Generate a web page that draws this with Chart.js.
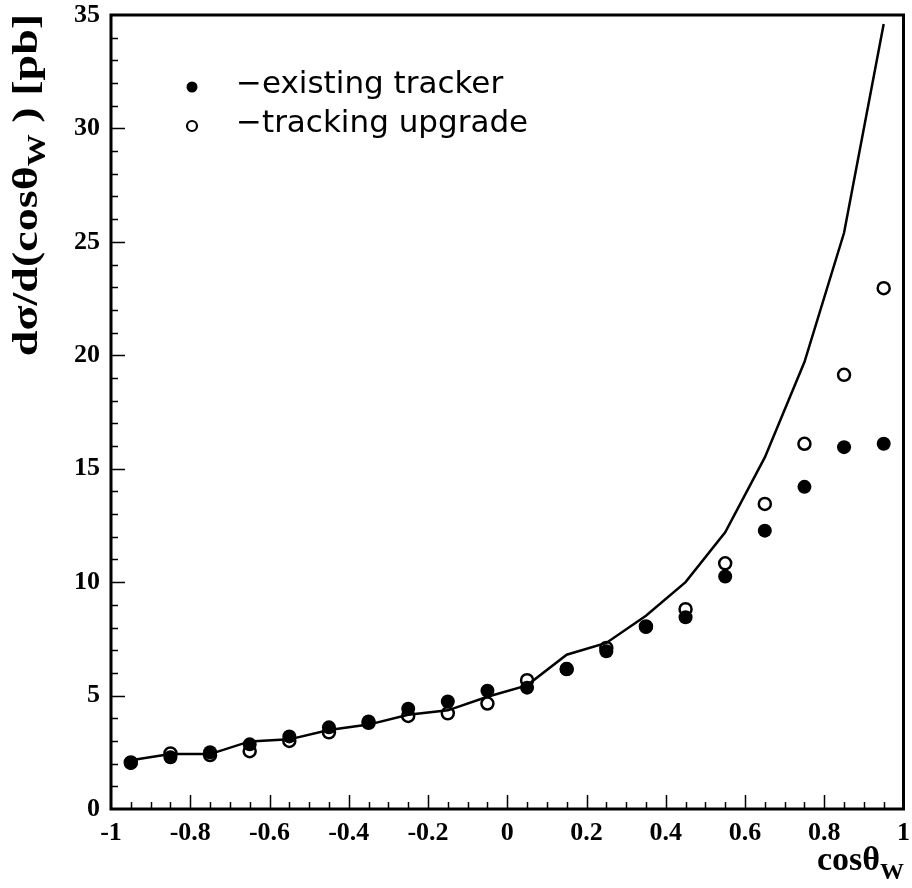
<!DOCTYPE html>
<html>
<head>
<meta charset="utf-8">
<style>
  html, body { margin: 0; padding: 0; background: #fff; }
  #wrap { width: 912px; height: 888px; }
</style>
</head>
<body>
<div id="wrap"><canvas id="xsecChart" width="912" height="888"></canvas></div>

<script src="https://cdn.jsdelivr.net/npm/chart.js"></script>
<script>
// bin centres in cos(theta_W)
const cosBins = [-0.95, -0.85, -0.75, -0.65, -0.55, -0.45, -0.35, -0.25, -0.15, -0.05,
                 0.05, 0.15, 0.25, 0.35, 0.45, 0.55, 0.65, 0.75, 0.85, 0.95];

// generator-level curve
const theoryCurve = [2.15, 2.42, 2.42, 2.98, 3.07, 3.48, 3.72, 4.15, 4.35, 4.95,
                     5.45, 6.8, 7.32, 8.52, 10.0, 12.2, 15.5, 19.7, 25.4, 34.6];

// reconstructed with the existing tracker (filled dots)
const existingTracker = [2.03, 2.28, 2.5, 2.85, 3.2, 3.6, 3.86, 4.42, 4.74, 5.21,
                         5.35, 6.17, 6.95, 8.02, 8.45, 10.25, 12.27, 14.2, 15.95, 16.1];

// reconstructed with the tracking upgrade (open dots)
const trackingUpgrade = [2.05, 2.45, 2.38, 2.55, 3.0, 3.38, 3.8, 4.1, 4.22, 4.65,
                         5.68, 6.17, 7.1, 8.05, 8.81, 10.83, 13.45, 16.1, 19.14, 22.96];

const xTicks = [-1, -0.8, -0.6, -0.4, -0.2, 0, 0.2, 0.4, 0.6, 0.8, 1];
const yTicks = [0, 5, 10, 15, 20, 25, 30, 35];

const legendLabels = ['\u2212existing tracker', '\u2212tracking upgrade'];

const toPoints = arr => cosBins.map((x, i) => ({ x: x, y: arr[i] }));

const serifBold = '"Liberation Serif", "Times New Roman", serif';

// frame, inward tick marks, axis titles and the legend
const paperStyle = {
    id: 'paperStyle',
    afterDraw(chart) {
        const ctx = chart.ctx;
        const area = chart.chartArea;
        const xs = chart.scales.x;
        const ys = chart.scales.y;
        ctx.save();
        ctx.strokeStyle = '#000';
        ctx.fillStyle = '#000';

        // ticks pointing into the plot
        ctx.lineWidth = 1.5;
        ctx.beginPath();
        for (let i = -19; i <= 19; i++) {
            const px = Math.round(xs.getPixelForValue(i * 0.05)) + 0.5;
            const len = (i % 4 === 0) ? 14 : 7;
            ctx.moveTo(px, area.bottom);
            ctx.lineTo(px, area.bottom - len);
        }
        for (let v = 1; v < 35; v++) {
            const py = Math.round(ys.getPixelForValue(v)) + 0.5;
            const len = (v % 5 === 0) ? 14 : 7;
            ctx.moveTo(area.left, py);
            ctx.lineTo(area.left + len, py);
        }
        ctx.stroke();

        // frame
        ctx.lineWidth = 3;
        ctx.strokeRect(area.left, area.top, area.right - area.left, area.bottom - area.top);

        // x title: cosθ_W
        ctx.textBaseline = 'alphabetic';
        ctx.textAlign = 'left';
        const xMain = 'bold 34px ' + serifBold;
        const xSub = 'bold 24px ' + serifBold;
        ctx.font = xMain;
        const wMain = ctx.measureText('cos\u03b8').width;
        ctx.font = xSub;
        const wSub = ctx.measureText('W').width;
        let tx = 904 - wMain - wSub;
        ctx.font = xMain;
        ctx.fillText('cos\u03b8', tx, 870);
        ctx.font = xSub;
        ctx.fillText('W', tx + wMain, 879);

        // y title: dσ/d(cosθ_W) [pb], rotated and a little widened
        const yMain = 'bold 36px ' + serifBold;
        const ySub = 'bold 25px ' + serifBold;
        const parts = [['d\u03c3/d(cos\u03b8', yMain, 0], ['W', ySub, 8], [' ) [pb]', yMain, 0]];
        let total = 0;
        parts.forEach(p => { ctx.font = p[1]; total += ctx.measureText(p[0]).width; });
        ctx.translate(37, 185);
        ctx.rotate(-Math.PI / 2);
        ctx.scale(1.28, 1);
        let cx = -total / 2;
        parts.forEach(p => {
            ctx.font = p[1];
            ctx.fillText(p[0], cx, p[2]);
            cx += ctx.measureText(p[0]).width;
        });
        ctx.setTransform(1, 0, 0, 1, 0, 0);

        // legend
        ctx.beginPath();
        ctx.arc(192, 87, 5.5, 0, Math.PI * 2);
        ctx.fill();
        ctx.lineWidth = 2.2;
        ctx.beginPath();
        ctx.arc(192, 126, 5, 0, Math.PI * 2);
        ctx.stroke();
        ctx.font = '31px "DejaVu Sans", sans-serif';
        ctx.textBaseline = 'middle';
        ctx.fillText(legendLabels[0], 236, 85);
        ctx.fillText(legendLabels[1], 236, 124);

        ctx.restore();
    }
};

new Chart(document.getElementById('xsecChart'), {
    type: 'scatter',
    data: {
        datasets: [{
            label: 'theory',
            type: 'line',
            data: toPoints(theoryCurve),
            borderColor: '#000',
            borderWidth: 2.5,
            pointRadius: 0,
            tension: 0,
            fill: false,
            order: 1
        }, {
            label: legendLabels[0],
            data: toPoints(existingTracker),
            pointStyle: 'circle',
            pointRadius: 7,
            backgroundColor: '#000',
            borderColor: '#000',
            borderWidth: 0,
            order: 3
        }, {
            label: legendLabels[1],
            data: toPoints(trackingUpgrade),
            pointStyle: 'circle',
            pointRadius: 6,
            backgroundColor: 'rgba(255,255,255,0)',
            borderColor: '#000',
            borderWidth: 2.5,
            order: 2
        }]
    },
    options: {
        responsive: false,
        animation: false,
        devicePixelRatio: 1,
        layout: {
            padding: { left: 0, top: 15, right: 5, bottom: 0 }
        },
        plugins: {
            legend: { display: false },
            tooltip: { enabled: false }
        },
        scales: {
            x: {
                type: 'linear',
                min: -1,
                max: 1,
                afterBuildTicks: function(scale) {
                    scale.ticks = xTicks.map(v => ({ value: v }));
                },
                afterFit: function(scale) {
                    scale.height = 79;
                    scale.paddingLeft = 0;
                    scale.paddingRight = 0;
                },
                grid: { display: false, drawTicks: false },
                border: { display: false },
                ticks: {
                    padding: 9,
                    maxRotation: 0,
                    autoSkip: false,
                    color: '#000',
                    font: { family: serifBold, size: 26, weight: 'bold' },
                    callback: function(value) { return String(value); }
                }
            },
            y: {
                min: 0,
                max: 35,
                afterBuildTicks: function(scale) {
                    scale.ticks = yTicks.map(v => ({ value: v }));
                },
                afterFit: function(scale) {
                    scale.width = 111;
                    scale.paddingTop = 0;
                    scale.paddingBottom = 0;
                },
                grid: { display: false, drawTicks: false },
                border: { display: false },
                ticks: {
                    padding: 11,
                    autoSkip: false,
                    color: '#000',
                    font: { family: serifBold, size: 26, weight: 'bold' }
                }
            }
        }
    },
    plugins: [paperStyle]
});
</script>
</body>
</html>
